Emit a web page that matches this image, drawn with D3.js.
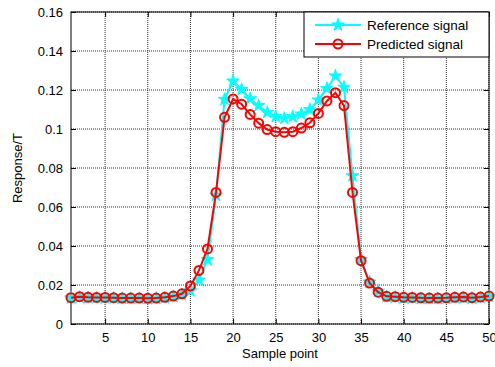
<!DOCTYPE html>
<html>
<head>
<meta charset="utf-8">
<script src="https://cdn.jsdelivr.net/npm/d3@7"></script>
<style>
  body { margin: 0; background: #fff; }
  svg { font-family: "Liberation Sans", Arial, sans-serif; }
</style>
</head>
<body>
<svg width="495" height="367"></svg>
<script>
const width = 495;
const height = 367;
const margin = {top: 12, right: 6, bottom: 43, left: 71};

const samples = d3.range(1, 51);
const referenceSignal = [
  0.0133, 0.0137, 0.0135, 0.0134, 0.0134, 0.0133, 0.0131, 0.0131, 0.0131, 0.0130,
  0.0131, 0.0134, 0.0140, 0.0150, 0.0170, 0.0225, 0.0330, 0.0660, 0.1152, 0.1246,
  0.1203, 0.1155, 0.1120, 0.1085, 0.1063, 0.1055, 0.1063, 0.1077, 0.1100, 0.1149,
  0.1208, 0.1272, 0.1214, 0.0760, 0.0330, 0.0215, 0.0168, 0.0140, 0.0137, 0.0134,
  0.0133, 0.0131, 0.0130, 0.0130, 0.0131, 0.0134, 0.0135, 0.0132, 0.0135, 0.0141
];
const predictedSignal = [
  0.0135, 0.0140, 0.0137, 0.0136, 0.0136, 0.0135, 0.0133, 0.0133, 0.0133, 0.0132,
  0.0133, 0.0137, 0.0143, 0.0155, 0.0195, 0.0275, 0.0385, 0.0675, 0.1060, 0.1154,
  0.1127, 0.1075, 0.1030, 0.0997, 0.0986, 0.0983, 0.0986, 0.1005, 0.1032, 0.1080,
  0.1144, 0.1186, 0.1120, 0.0675, 0.0325, 0.0210, 0.0163, 0.0142, 0.0140, 0.0137,
  0.0136, 0.0134, 0.0133, 0.0133, 0.0134, 0.0137, 0.0138, 0.0135, 0.0138, 0.0143
];
const xTicks = [5, 10, 15, 20, 25, 30, 35, 40, 45, 50];
const yTicks = [0, 0.02, 0.04, 0.06, 0.08, 0.1, 0.12, 0.14, 0.16];
const seriesNames = ["Reference signal", "Predicted signal"];

const svg = d3.select("svg");

let xScale = d3.scaleLinear()
  .domain([1, 50])
  .range([margin.left, width - margin.right]);

let yScale = d3.scaleLinear()
  .domain([0, 0.16])
  .range([height - margin.bottom, margin.top]);

// grid
svg.append("g")
  .selectAll("line")
  .data(xTicks)
  .enter()
  .append("line")
    .attr("x1", d => xScale(d)).attr("x2", d => xScale(d))
    .attr("y1", margin.top).attr("y2", height - margin.bottom)
    .attr("stroke", "#333")
    .attr("stroke-width", 1)
    .attr("stroke-dasharray", "1,1");

svg.append("g")
  .selectAll("line")
  .data(yTicks)
  .enter()
  .append("line")
    .attr("x1", margin.left).attr("x2", width - margin.right)
    .attr("y1", d => yScale(d)).attr("y2", d => yScale(d))
    .attr("stroke", "#333")
    .attr("stroke-width", 1)
    .attr("stroke-dasharray", "1,1");

// axes
const fmt = d => d === 0 ? "0" : String(+d.toFixed(2));

const xAxis = d3.axisBottom(xScale)
  .tickValues(xTicks)
  .tickSize(-5)
  .tickSizeOuter(0)
  .tickPadding(9);

const yAxis = d3.axisLeft(yScale)
  .tickValues(yTicks)
  .tickSize(-5)
  .tickSizeOuter(0)
  .tickPadding(8)
  .tickFormat(fmt);

svg.append("g")
    .attr("transform", `translate(0, ${height - margin.bottom})`)
    .call(xAxis);

svg.append("g")
    .attr("transform", `translate(${margin.left}, 0)`)
    .call(yAxis);

// top and right ticks
svg.append("g")
    .attr("transform", `translate(0, ${margin.top})`)
    .call(d3.axisTop(xScale).tickValues(xTicks).tickSize(-5).tickSizeOuter(0).tickFormat(""));
svg.append("g")
    .attr("transform", `translate(${width - margin.right}, 0)`)
    .call(d3.axisRight(yScale).tickValues(yTicks).tickSize(-5).tickSizeOuter(0).tickFormat(""));

svg.selectAll(".domain").remove();
svg.selectAll(".tick line").attr("stroke", "#000");
svg.selectAll(".tick text")
  .style("font-size", "13px")
  .attr("fill", "#000");

// box
svg.append("rect")
  .attr("x", margin.left)
  .attr("y", margin.top)
  .attr("width", width - margin.right - margin.left)
  .attr("height", height - margin.bottom - margin.top)
  .attr("fill", "none")
  .attr("stroke", "#000")
  .attr("stroke-width", 1);

// lines
const line = d3.line()
  .x((d, i) => xScale(samples[i]))
  .y(d => yScale(d));

const star = d3.symbol().type(d3.symbolStar).size(50);

svg.append("path")
  .datum(referenceSignal)
  .attr("d", line)
  .attr("fill", "none")
  .attr("stroke", "#00ffff")
  .attr("stroke-width", 2);

svg.append("g")
  .selectAll("path")
  .data(referenceSignal)
  .enter()
  .append("path")
    .attr("d", star)
    .attr("transform", (d, i) => `translate(${xScale(samples[i])}, ${yScale(d)})`)
    .attr("fill", "#00ffff")
    .attr("stroke", "#00ffff")
    .attr("stroke-width", 1);

svg.append("path")
  .datum(predictedSignal)
  .attr("d", line)
  .attr("fill", "none")
  .attr("stroke", "#ff0000")
  .attr("stroke-width", 2);

svg.append("g")
  .selectAll("circle")
  .data(predictedSignal)
  .enter()
  .append("circle")
    .attr("cx", (d, i) => xScale(samples[i]))
    .attr("cy", d => yScale(d))
    .attr("r", 4.5)
    .attr("fill", "none")
    .attr("stroke", "#ff0000")
    .attr("stroke-width", 2);

// labels
svg.append("text")
  .attr("x", (margin.left + width - margin.right) / 2)
  .attr("y", 358)
  .style("text-anchor", "middle")
  .style("font-size", "13px")
  .text("Sample point");

svg.append("text")
  .attr("transform", "rotate(-90)")
  .attr("x", -(margin.top + height - margin.bottom) / 2)
  .attr("y", 22)
  .style("text-anchor", "middle")
  .style("font-size", "13px")
  .text("Response/T");

// legend
const legend = svg.append("g");
legend.append("rect")
  .attr("x", 304)
  .attr("y", margin.top)
  .attr("width", width - margin.right - 304)
  .attr("height", 45)
  .attr("fill", "#fff")
  .attr("stroke", "#000")
  .attr("stroke-width", 1);

const legendColors = ["#00ffff", "#ff0000"];
seriesNames.forEach((name, i) => {
  const ly = 25 + i * 19;
  legend.append("line")
    .attr("x1", 315).attr("x2", 361)
    .attr("y1", ly).attr("y2", ly)
    .attr("stroke", legendColors[i])
    .attr("stroke-width", 2);
  if (i === 0) {
    legend.append("path")
      .attr("d", star)
      .attr("transform", `translate(338, ${ly})`)
      .attr("fill", "#00ffff")
      .attr("stroke", "#00ffff");
  } else {
    legend.append("circle")
      .attr("cx", 338).attr("cy", ly).attr("r", 4.5)
      .attr("fill", "none")
      .attr("stroke", "#ff0000")
      .attr("stroke-width", 2);
  }
  legend.append("text")
    .attr("x", 367)
    .attr("y", ly + 5)
    .style("font-size", "13.5px")
    .text(name);
});
</script>
</body>
</html>
